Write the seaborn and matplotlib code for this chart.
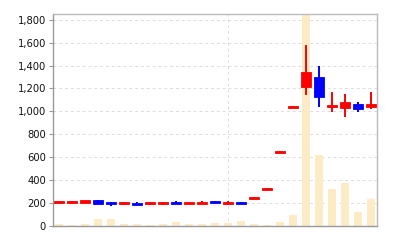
import matplotlib
matplotlib.use("Agg")
import matplotlib.pyplot as plt
import seaborn as sns
import numpy as np
import pandas as pd
from matplotlib.ticker import FuncFormatter, FixedLocator

idx = list(range(25))
opens  = [202, 200, 205, 224, 207, 188, 204, 188, 189, 210, 195, 195, 216, 190, 211,
          238, 317, 638, 1033, 1217, 1302, 1040, 1030, 1066, 1036]
highs  = [218, 215, 222, 226, 212, 206, 208, 206, 208, 214, 212, 214, 218, 214, 213,
          256, 335, 656, 1051, 1582, 1398, 1168, 1153, 1083, 1168]
lows   = [200, 198, 203, 190, 175, 186, 186, 186, 187, 190, 193, 193, 198, 186, 190,
          238, 317, 638, 1033, 1145, 1042, 994, 950, 994, 1020]
closes = [220, 218, 224, 193, 189, 206, 186, 206, 207, 192, 213, 213, 198, 210, 192,
          256, 335, 656, 1051, 1346, 1130, 1060, 1086, 1022, 1064]
volume = [15, 8, 18, 58, 64, 15, 15, 8, 15, 32, 18, 18, 23, 26, 47,
          15, 12, 32, 93, 2600, 618, 321, 378, 120, 233]
yticks = [0, 200, 400, 600, 800, 1000, 1200, 1400, 1600, 1800]

sns.set_style("white")
fig = plt.figure(figsize=(4, 2.4), dpi=100)
ax = fig.add_axes([0.1325, 0.0583, 0.81, 0.8834])

df = pd.DataFrame({"i": idx, "vol": volume})
sns.barplot(data=df, x="i", y="vol", color="#fdebc6", saturation=1, width=0.62,
            ax=ax, zorder=1)
for p in ax.patches:
    p.set_edgecolor("none")

up = [c >= o for o, c in zip(opens, closes)]
cols = ["#ff0000" if u else "#0000ff" for u in up]
ax.vlines(idx, lows, highs, colors=cols, linewidth=1.4, zorder=3)
bottoms = [min(o, c) for o, c in zip(opens, closes)]
heights = [abs(c - o) for o, c in zip(opens, closes)]
ax.bar(idx, heights, bottom=bottoms, width=0.74, color=cols, edgecolor=cols,
       linewidth=0.6, zorder=4)

ax.set_xlim(-0.46, 24.46)
ax.set_ylim(0, 1850)
ax.yaxis.set_major_locator(FixedLocator(yticks))
ax.yaxis.set_major_formatter(FuncFormatter(lambda v, p: f"{int(v):,}"))
ax.set_xticks([13])
ax.set_xticklabels([])
ax.tick_params(axis="x", length=0)
ax.tick_params(axis="y", length=3, width=0.8, color="#999999", labelsize=7.2,
               labelcolor="#111111", pad=2, left=True)
ax.grid(True, axis="y", color="#dddddd", linestyle=(0, (3, 3)), linewidth=0.7)
ax.grid(True, axis="x", color="#dddddd", linestyle=(0, (3, 3)), linewidth=0.7)
ax.set_axisbelow(True)
ax.set_xlabel("")
ax.set_ylabel("")
for s in ["left", "bottom"]:
    ax.spines[s].set_color("#999999")
    ax.spines[s].set_linewidth(1.0)
for s in ["top", "right"]:
    ax.spines[s].set_color("#bbbbbb")
    ax.spines[s].set_linewidth(1.0)

fig.savefig("out.png", dpi=100)
